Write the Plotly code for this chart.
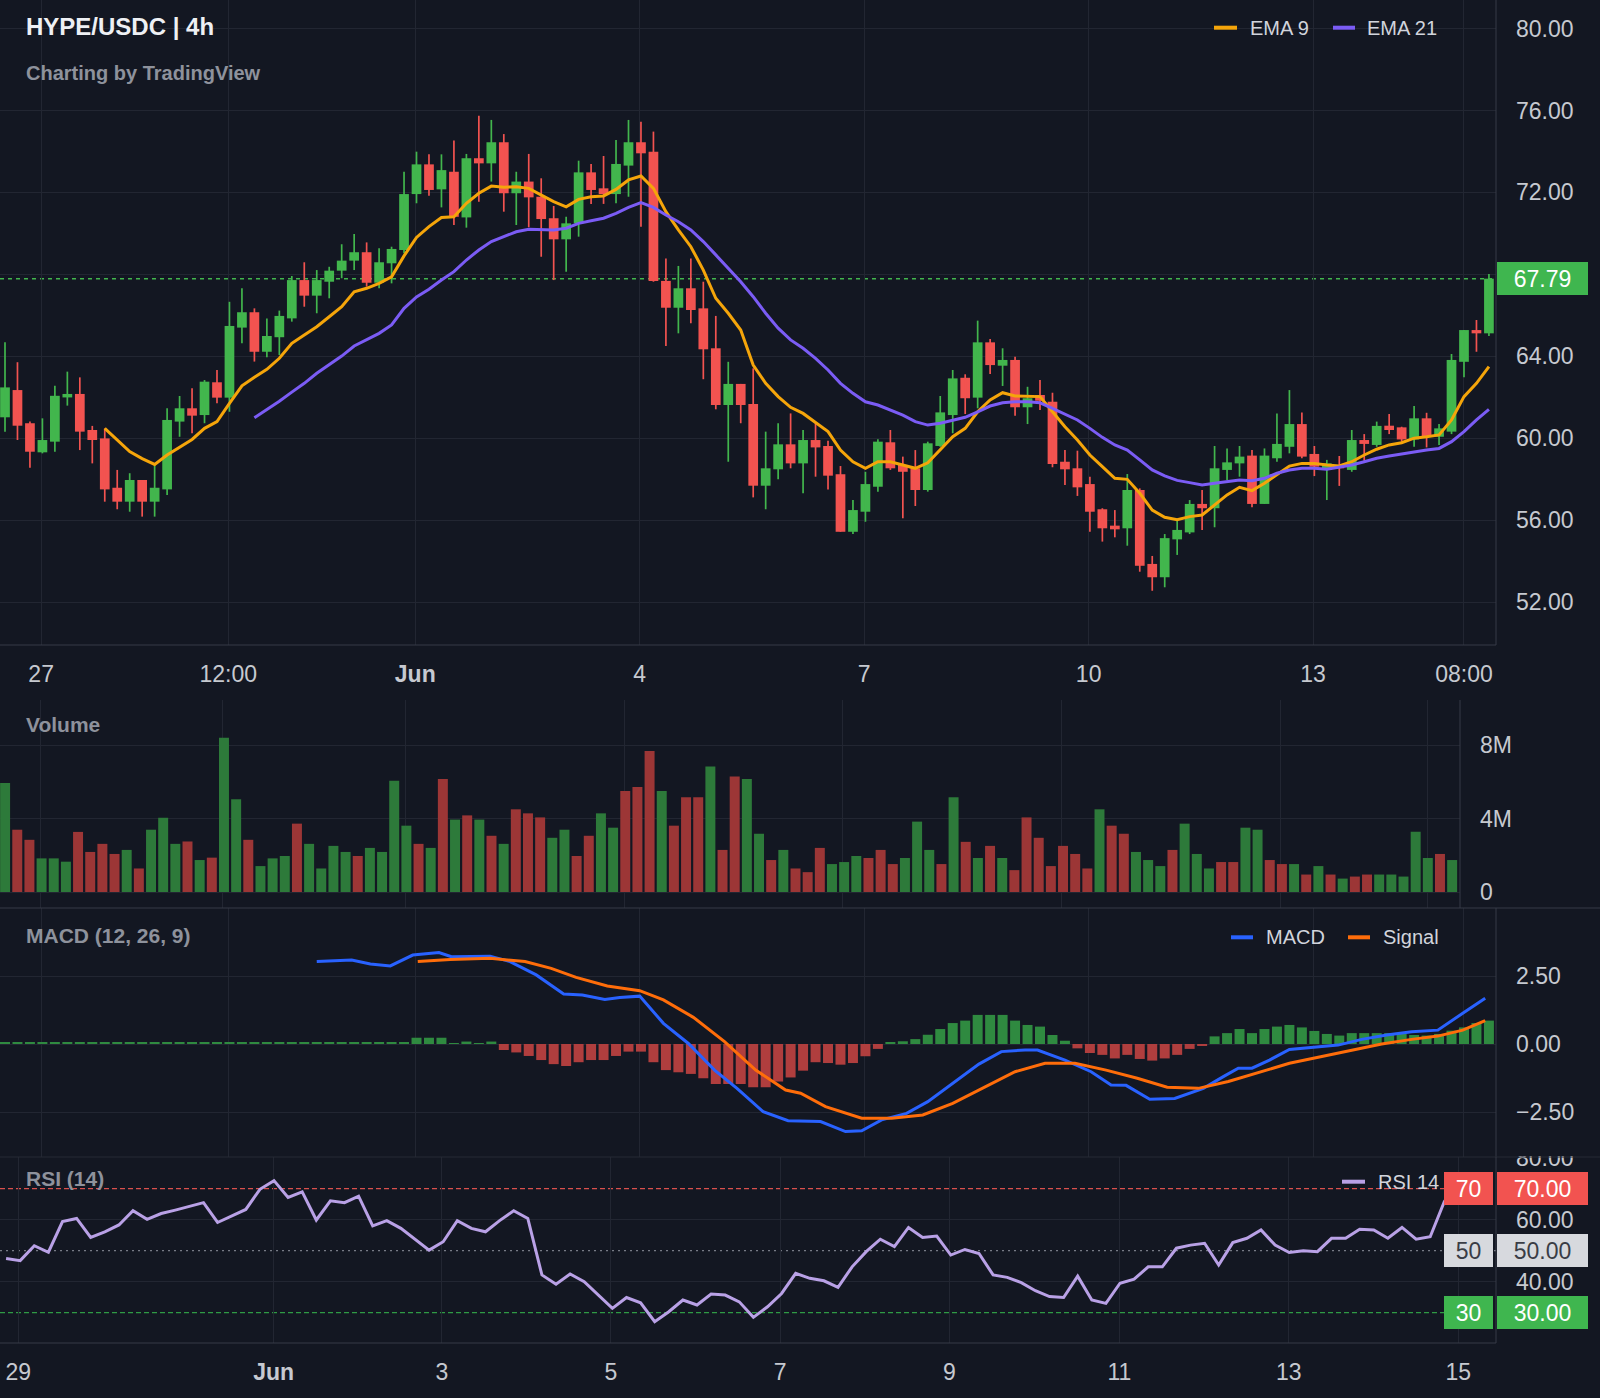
import plotly.graph_objects as go

W, H = 1600, 1398
BG = "#131722"
GRID = "#222632"
BORDER = "#363a46"
TICK = "#c6c9d0"
LABEL = "#8e929c"
LEG = "#d1d4dc"
UP = "#42b64d"
DN = "#f25350"
VOL_UP = "#2d7a3a"
VOL_DN = "#9c3636"
H_UP = "#2f8a40"
H_DN = "#b03e3e"
EMA9_C = "#f5a50a"
EMA21_C = "#7b5cf5"
MACD_C = "#2962ff"
SIG_C = "#ff6d0a"
RSI_C = "#b9a1e6"
FONT = "Liberation Sans, Arial, sans-serif"

# ---------------- data ----------------
candle_open = [61.02, 62.35, 60.73, 59.31, 59.83, 61.99, 62.16, 60.40, 59.99, 57.58,
               56.90, 57.96, 56.90, 57.50, 60.81, 61.46, 61.13, 62.73, 61.98, 65.40,
               66.15, 64.22, 64.93, 65.85, 67.72, 66.96, 67.64, 68.18, 68.67, 69.08,
               67.59, 68.54, 69.19, 71.92, 73.37, 72.15, 73.01, 70.78, 73.67, 73.42,
               74.45, 71.96, 72.53, 71.79, 70.74, 69.71, 70.49, 72.98, 72.20, 71.92,
               73.31, 74.45, 73.99, 67.68, 66.37, 67.32, 66.34, 64.39, 61.62, 62.65,
               61.67, 57.68, 58.48, 59.70, 58.77, 59.91, 59.62, 58.24, 55.43, 56.41,
               57.63, 59.80, 58.69, 58.53, 57.47, 59.62, 61.13, 62.95, 61.98, 64.68,
               63.54, 63.82, 61.51, 62.11, 61.78, 58.85, 58.53, 57.76, 56.53, 55.73,
               55.60, 57.47, 53.86, 53.21, 55.06, 55.40, 56.79, 56.58, 58.45, 58.77,
               59.15, 56.79, 59.02, 59.58, 60.69, 59.23, 58.45, 58.69, 58.45, 59.91,
               59.67, 60.61, 60.53, 59.94, 60.97, 60.07, 60.32, 63.73, 65.28, 65.12]
candle_high = [64.68, 63.71, 60.81, 60.97, 62.56, 63.25, 62.97, 60.60, 60.48, 58.45,
               58.29, 57.96, 58.69, 61.46, 62.06, 62.44, 62.84, 63.33, 66.66, 67.32,
               66.34, 65.85, 66.23, 67.92, 68.59, 68.21, 68.37, 69.47, 69.97, 69.56,
               69.27, 69.35, 73.01, 73.99, 73.86, 73.86, 74.53, 73.88, 75.75, 75.54,
               74.85, 73.01, 73.88, 72.69, 71.34, 70.81, 73.55, 73.39, 73.78, 74.56,
               75.54, 75.45, 74.97, 68.78, 68.41, 68.78, 67.64, 65.97, 63.73, 62.65,
               63.41, 60.32, 60.73, 61.21, 60.40, 60.73, 59.88, 58.64, 56.98, 58.36,
               59.95, 60.40, 59.10, 59.42, 59.83, 62.06, 63.33, 63.12, 65.74, 64.84,
               64.39, 63.98, 62.51, 62.84, 62.22, 59.42, 59.39, 58.12, 56.58, 56.49,
               58.25, 57.55, 54.25, 55.32, 56.00, 56.98, 57.47, 59.62, 59.50, 59.62,
               59.42, 59.50, 61.21, 62.35, 61.26, 59.62, 58.94, 59.13, 60.40, 60.20,
               60.81, 61.18, 60.56, 61.57, 61.24, 60.69, 64.11, 65.28, 65.77, 68.02]
candle_low = [60.32, 59.91, 58.56, 59.26, 59.34, 61.59, 59.42, 58.77, 56.90, 56.53,
              56.41, 56.17, 56.17, 57.23, 60.07, 60.24, 60.73, 61.70, 61.29, 64.63,
              63.74, 63.95, 64.06, 65.69, 66.42, 66.10, 66.83, 67.81, 68.21, 67.40,
              67.32, 67.56, 69.03, 71.47, 71.84, 71.27, 70.41, 70.28, 71.55, 72.53,
              71.06, 70.41, 70.30, 68.86, 67.72, 68.13, 69.84, 71.44, 71.44, 71.47,
              71.79, 70.33, 67.64, 64.50, 65.12, 65.61, 62.88, 61.41, 58.85, 60.73,
              57.11, 56.53, 57.99, 58.53, 57.31, 58.12, 57.50, 55.43, 55.32, 55.92,
              57.39, 58.45, 56.09, 56.69, 57.39, 59.58, 60.24, 61.18, 61.46, 63.13,
              62.55, 61.10, 60.69, 61.38, 58.58, 57.71, 57.18, 55.43, 54.95, 55.16,
              54.75, 53.48, 52.55, 52.72, 54.30, 55.32, 55.52, 55.65, 57.96, 58.12,
              56.63, 56.79, 58.85, 59.26, 59.02, 58.15, 56.98, 57.67, 58.36, 58.90,
              59.58, 60.20, 59.83, 59.58, 59.55, 59.67, 60.20, 62.97, 64.22, 64.99]
candle_close = [62.48, 60.61, 59.34, 59.91, 62.07, 62.16, 60.32, 59.91, 57.50, 56.90,
                57.96, 56.90, 57.58, 60.89, 61.46, 61.10, 62.76, 61.98, 65.48, 66.15,
                64.22, 64.99, 65.97, 67.72, 66.96, 67.72, 68.18, 68.67, 69.08, 67.59,
                68.59, 69.24, 71.92, 73.37, 72.12, 73.09, 70.81, 73.67, 73.42, 74.45,
                71.96, 72.53, 71.76, 70.70, 69.71, 70.49, 72.98, 72.12, 71.92, 73.39,
                74.45, 73.91, 67.68, 66.37, 67.32, 66.26, 64.34, 61.62, 62.65, 61.62,
                57.68, 58.53, 59.70, 58.77, 59.91, 59.55, 58.17, 55.43, 56.49, 57.76,
                59.83, 58.53, 58.36, 57.47, 59.75, 61.26, 62.92, 61.95, 64.68, 63.57,
                63.82, 61.51, 61.95, 61.83, 58.74, 58.48, 57.60, 56.41, 55.60, 55.55,
                57.47, 53.77, 53.21, 55.12, 55.52, 56.79, 56.58, 58.53, 58.82, 59.10,
                56.79, 59.15, 59.72, 60.69, 59.10, 58.61, 58.77, 58.53, 59.91, 59.72,
                60.60, 60.40, 59.94, 60.97, 60.07, 60.48, 63.82, 65.28, 65.12, 67.79]

ema9_first = 8
ema9 = [60.48, 59.91, 59.35, 59.00, 58.72, 59.18, 59.58, 59.94, 60.48, 60.81, 61.70, 62.56,
        62.97, 63.36, 63.90, 64.63, 65.04, 65.44, 65.93, 66.42, 67.15, 67.32,
        67.56, 67.88, 68.90, 69.80, 70.33, 70.78, 70.81, 71.47, 71.96, 72.31,
        72.25, 72.28, 72.20, 71.87, 71.55, 71.30, 71.66, 71.79, 71.83, 72.15,
        72.61, 72.80, 72.20, 71.06, 70.17, 69.35, 68.21, 66.83, 66.10, 65.28,
        63.57, 62.68, 62.03, 61.51, 61.21, 60.77, 60.32, 59.42, 58.85, 58.53,
        58.85, 58.85, 58.69, 58.53, 58.80, 59.42, 60.07, 60.48, 61.29, 61.87,
        62.22, 62.06, 62.06, 62.03, 61.29, 60.56, 59.91, 59.18, 58.61, 58.04,
        57.99, 57.31, 56.49, 56.14, 56.02, 56.17, 56.25, 56.74, 57.23, 57.60,
        57.44, 57.80, 58.20, 58.64, 58.77, 58.77, 58.69, 58.64, 58.85, 59.18,
        59.46, 59.67, 59.78, 60.00, 60.07, 60.16, 60.89, 62.03, 62.68, 63.49]
ema21_first = 20
ema21 = [61.00, 61.40, 61.80, 62.25, 62.68, 63.17, 63.57, 64.01, 64.50, 64.80,
         65.12, 65.53, 66.34, 66.90, 67.27, 67.72, 68.13, 68.70, 69.19, 69.60,
         69.84, 70.08, 70.20, 70.20, 70.17, 70.25, 70.49, 70.62, 70.74, 70.98,
         71.27, 71.50, 71.27, 70.90, 70.57, 70.17, 69.60, 68.95, 68.30, 67.64,
         66.91, 66.10, 65.37, 64.80, 64.39, 63.90, 63.33, 62.68, 62.19, 61.78,
         61.62, 61.38, 61.13, 60.81, 60.64, 60.73, 60.89, 61.02, 61.29, 61.57,
         61.73, 61.78, 61.78, 61.73, 61.46, 61.18, 60.89, 60.48, 60.04, 59.67,
         59.42, 58.94, 58.45, 58.16, 57.94, 57.83, 57.71, 57.80, 57.88, 57.96,
         57.92, 58.04, 58.29, 58.45, 58.53, 58.53, 58.48, 58.58, 58.69, 58.85,
         59.02, 59.13, 59.23, 59.34, 59.42, 59.50, 59.83, 60.32, 60.89, 61.41]

volume_m = [5.93, 3.39, 2.84, 1.83, 1.83, 1.65, 3.27, 2.18, 2.62, 2.07,
            2.29, 1.28, 3.39, 4.04, 2.62, 2.75, 1.74, 1.87, 8.40, 5.05,
            2.84, 1.41, 1.83, 1.96, 3.72, 2.62, 1.28, 2.51, 2.18, 1.96,
            2.40, 2.18, 6.06, 3.61, 2.62, 2.40, 6.15, 3.94, 4.17, 3.94,
            3.06, 2.62, 4.50, 4.28, 4.06, 2.95, 3.39, 1.96, 3.06, 4.28,
            3.50, 5.49, 5.71, 7.67, 5.49, 3.61, 5.16, 5.16, 6.83, 2.29,
            6.28, 6.15, 3.17, 1.74, 2.29, 1.28, 1.08, 2.40, 1.52, 1.63,
            1.96, 1.85, 2.29, 1.52, 1.85, 3.83, 2.29, 1.52, 5.16, 2.73,
            1.85, 2.51, 1.85, 1.19, 4.06, 2.95, 1.41, 2.51, 2.07, 1.28,
            4.50, 3.61, 3.17, 2.18, 1.74, 1.41, 2.29, 3.72, 2.07, 1.28,
            1.63, 1.63, 3.50, 3.39, 1.74, 1.52, 1.52, 0.95, 1.41, 0.95,
            0.73, 0.84, 0.95, 0.95, 0.95, 0.84, 3.28, 1.85, 2.07, 1.74]
volume_side = list("grrgggrrrrgrgggrgrgg" "rgggrggggrggggrgrgrg" "rgrrrggrrggrrrgrrrgr"
                   "rggrgrrrgggrrrgggrgr" "grgrrrrrrrgrrgggrggg" "rrggrrgrgrgrrgggggrg")

macd_x = [25.0, 27.8, 29.3, 30.9, 32.7, 34.8, 35.8, 38.9, 40.5, 42.6, 44.8, 46.3, 48.1,
          49.3, 50.9, 52.8, 54.8, 56.9, 58.7, 60.8, 62.8, 65.4, 67.4, 68.7, 70.3, 72.3,
          74.0, 76.0, 78.1, 79.9, 81.8, 82.8, 85.0, 87.1, 88.7, 89.9, 91.8, 93.8, 96.1,
          97.7, 98.9, 100.0, 101.4, 103.0, 105.1, 106.9, 108.8, 110.8, 112.8, 114.9,
          116.9, 118.7]
macd_line = [3.03, 3.09, 2.94, 2.87, 3.27, 3.36, 3.21, 3.23, 3.03, 2.54, 1.84, 1.80, 1.64,
             1.71, 1.76, 0.76, 0.02, -0.96, -1.63, -2.49, -2.82, -2.85, -3.22, -3.19, -2.79,
             -2.55, -2.12, -1.45, -0.74, -0.28, -0.22, -0.22, -0.59, -1.02, -1.51, -1.52,
             -2.03, -2.00, -1.63, -1.20, -0.89, -0.89, -0.59, -0.20, -0.10, -0.04, 0.17,
             0.33, 0.45, 0.51, 1.13, 1.68]
signal_x = [33.1, 35.7, 38.9, 41.7, 43.8, 45.8, 48.3, 50.9, 52.8, 55.2, 57.7, 60.2, 62.6,
            63.8, 65.8, 68.7, 71.1, 73.6, 76.0, 78.5, 81.0, 83.4, 85.8, 88.3, 90.8, 93.2,
            95.7, 98.1, 100.6, 103.0, 105.5, 107.9, 110.4, 112.8, 114.9, 116.9, 118.7]
signal_line = [3.03, 3.11, 3.15, 3.03, 2.78, 2.45, 2.13, 1.96, 1.62, 0.98, 0.09, -0.96,
               -1.69, -1.81, -2.30, -2.73, -2.73, -2.61, -2.18, -1.59, -1.02, -0.71, -0.71,
               -0.96, -1.26, -1.59, -1.63, -1.38, -1.05, -0.71, -0.47, -0.25, 0.00, 0.17,
               0.29, 0.51, 0.86]
macd_hist = [0.05, 0.05, 0.05, 0.05, 0.05, 0.05, 0.05, 0.05, 0.05, 0.05,
             0.05, 0.05, 0.05, 0.05, 0.05, 0.05, 0.05, 0.05, 0.05, 0.05,
             0.05, 0.05, 0.05, 0.05, 0.05, 0.05, 0.05, 0.05, 0.05, 0.05,
             0.05, 0.05, 0.05, 0.23, 0.23, 0.23, 0.03, 0.09, 0.03, 0.09,
             -0.22, -0.31, -0.44, -0.59, -0.74, -0.81, -0.67, -0.59, -0.59, -0.44,
             -0.28, -0.28, -0.67, -0.96, -1.04, -1.10, -1.26, -1.47, -1.47, -1.47,
             -1.59, -1.59, -1.38, -1.23, -0.98, -0.67, -0.70, -0.76, -0.70, -0.45,
             -0.18, 0.04, 0.10, 0.18, 0.34, 0.55, 0.77, 0.86, 1.07, 1.07,
             1.07, 0.86, 0.70, 0.64, 0.33, 0.12, -0.16, -0.33, -0.40, -0.53,
             -0.40, -0.55, -0.61, -0.53, -0.40, -0.18, -0.04, 0.28, 0.40, 0.55,
             0.40, 0.55, 0.64, 0.70, 0.61, 0.48, 0.37, 0.31, 0.40, 0.40,
             0.40, 0.40, 0.37, 0.33, 0.31, 0.37, 0.49, 0.61, 0.77, 0.86]

rsi14 = [47.5, 46.8, 51.6, 49.5, 59.4, 60.4, 54.3, 56.1, 58.3, 62.9, 60.1, 62.0, 63.1, 64.4,
         65.5, 59.1, 61.3, 63.3, 69.8, 72.6, 67.2, 69.0, 59.9, 66.1, 65.5, 67.6, 58.0, 59.7,
         57.2, 53.7, 50.2, 52.9, 59.7, 57.2, 56.1, 59.7, 62.9, 60.4, 42.2, 39.2, 42.5, 40.0,
         35.7, 31.4, 34.9, 33.2, 27.1, 30.3, 34.1, 32.5, 36.0, 35.7, 33.5, 28.5, 31.9, 36.2,
         42.7, 41.1, 40.3, 38.2, 44.8, 49.7, 53.7, 51.3, 57.5, 54.3, 54.7, 48.6, 50.4, 49.1,
         42.2, 41.4, 39.7, 37.1, 35.2, 34.9, 41.8, 34.1, 33.0, 39.5, 40.8, 44.8, 44.8, 50.8,
         51.8, 52.4, 45.4, 52.6, 54.0, 56.7, 51.8, 49.4, 50.0, 49.7, 54.0, 54.0, 56.9, 56.7,
         54.0, 57.5, 53.7, 54.5, 65.8, 72.5]

price_ticks = [52, 56, 60, 64, 68, 72, 76, 80]
price_tick_text = ["52.00", "56.00", "60.00", "64.00", "", "72.00", "76.00", "80.00"]
time_ticks = [2.9, 17.9, 32.9, 50.9, 68.9, 86.9, 104.9, 117.0]
time_tick_text = ["27", "12:00", "<b>Jun</b>", "4", "7", "10", "13", "08:00"]
rsi_time_ticks = [0.87, 18.97, 30.9, 42.9, 54.9, 66.9, 78.96, 90.97, 102.99]
rsi_time_tick_text = ["29", "<b>Jun</b>", "3", "5", "7", "9", "11", "13", "15"]
volume_ticks = [0, 4e6, 8e6]
volume_tick_text = ["0", "4M", "8M"]
macd_ticks = [2.5, 0, -2.5]
macd_tick_text = ["2.50", "0.00", "\u22122.50"]
rsi_ticks = [40, 60, 80]
rsi_tick_text = ["40.00", "60.00", "80.00"]
rsi_levels = [70, 50, 30]
last_price = 67.79

# ---------------- layout geometry (pixels) ----------------
PX1 = 1496          # right edge of price / macd / rsi plots
VX1 = 1460          # right edge of volume plot
P_TOP, P_BOT = 0, 645
V_TOP, V_BOT = 700, 908
M_TOP, M_BOT = 908, 1157
R_TOP, R_BOT = 1157, 1343
STEP = 12.47        # candle spacing
X0 = 5.0            # first candle centre
VSTEP = 12.16
VX0 = 5.1
RSTEP = 14.1
RX0 = 6.1


def px(x):
    return x / W


def py(y):
    return 1 - y / H


n = len(candle_close)
idx = list(range(n))
is_up = [c >= o for o, c in zip(candle_open, candle_close)]

fig = go.Figure()

# wicks
for flag, col in ((True, UP), (False, DN)):
    wx, wy = [], []
    for i in idx:
        if is_up[i] == flag:
            wx += [i, i, None]
            wy += [candle_low[i], candle_high[i], None]
    fig.add_trace(go.Scatter(x=wx, y=wy, mode="lines", line=dict(color=col, width=1.7),
                             hoverinfo="skip", xaxis="x", yaxis="y"))
# bodies
fig.add_trace(go.Bar(
    x=idx,
    y=[abs(c - o) for o, c in zip(candle_open, candle_close)],
    base=[min(o, c) for o, c in zip(candle_open, candle_close)],
    marker=dict(color=[UP if u else DN for u in is_up], line=dict(width=0)),
    width=0.78, xaxis="x", yaxis="y"))
# EMAs
fig.add_trace(go.Scatter(x=list(range(ema9_first, ema9_first + len(ema9))), y=ema9,
                         mode="lines", line=dict(color=EMA9_C, width=3), xaxis="x", yaxis="y"))
fig.add_trace(go.Scatter(x=list(range(ema21_first, ema21_first + len(ema21))), y=ema21,
                         mode="lines", line=dict(color=EMA21_C, width=3), xaxis="x", yaxis="y"))

# volume
fig.add_trace(go.Bar(x=list(range(len(volume_m))), y=[v * 1e6 for v in volume_m],
                     marker=dict(color=[VOL_UP if s == "g" else VOL_DN for s in volume_side],
                                 line=dict(width=0)),
                     width=0.82, xaxis="x2", yaxis="y2"))

# MACD
fig.add_trace(go.Bar(x=idx, y=macd_hist,
                     marker=dict(color=[H_UP if v >= 0 else H_DN for v in macd_hist],
                                 line=dict(width=0)),
                     width=0.8, xaxis="x3", yaxis="y3"))
fig.add_trace(go.Scatter(x=macd_x, y=macd_line, mode="lines", line=dict(color=MACD_C, width=3),
                         xaxis="x3", yaxis="y3"))
fig.add_trace(go.Scatter(x=signal_x, y=signal_line, mode="lines", line=dict(color=SIG_C, width=3),
                         xaxis="x3", yaxis="y3"))

# RSI
fig.add_trace(go.Scatter(x=list(range(len(rsi14))), y=rsi14, mode="lines",
                         line=dict(color=RSI_C, width=3), xaxis="x4", yaxis="y4"))

tickfont = dict(family=FONT, size=23, color=TICK)
base_x = dict(showgrid=True, gridcolor=GRID, gridwidth=1, zeroline=False, showline=False,
              ticks="", fixedrange=True, tickfont=tickfont, automargin=False)
base_y = dict(showgrid=True, gridcolor=GRID, gridwidth=1, zeroline=False, showline=False,
              ticks="", side="right", fixedrange=True, tickfont=tickfont, ticklabelstandoff=19,
              automargin=False)

price_range_x = [-X0 / STEP, (PX1 - X0) / STEP]
layout = dict(
    width=W, height=H, autosize=False,
    margin=dict(l=0, r=0, t=0, b=0, pad=0, autoexpand=False),
    paper_bgcolor=BG, plot_bgcolor=BG, showlegend=False, barmode="overlay",
    xaxis=dict(base_x, domain=[0, px(PX1)], range=price_range_x, tickmode="array",
               tickvals=time_ticks, ticktext=time_tick_text, anchor="y", ticklabelstandoff=13),
    yaxis=dict(base_y, domain=[py(P_BOT), py(P_TOP)],
               range=[81.396 - P_BOT / 20.48, 81.396 - P_TOP / 20.48],
               tickmode="array", tickvals=price_ticks, ticktext=price_tick_text, anchor="x"),
    xaxis2=dict(base_x, domain=[0, px(VX1)], range=[-VX0 / VSTEP, (VX1 - VX0) / VSTEP],
                tickmode="array", tickvals=time_ticks, showticklabels=False, anchor="y2"),
    yaxis2=dict(base_y, domain=[py(V_BOT), py(V_TOP)],
                range=[-(V_BOT - 892) / 18.375 * 1e6, (892 - V_TOP) / 18.375 * 1e6],
                tickmode="array", tickvals=volume_ticks, ticktext=volume_tick_text, anchor="x2"),
    xaxis3=dict(base_x, domain=[0, px(PX1)], range=price_range_x, tickmode="array",
                tickvals=time_ticks, showticklabels=False, anchor="y3"),
    yaxis3=dict(base_y, domain=[py(M_BOT), py(M_TOP)],
                range=[-(M_BOT - 1044) / 27.2, (1044 - M_TOP) / 27.2],
                tickmode="array", tickvals=macd_ticks, ticktext=macd_tick_text, anchor="x3"),
    xaxis4=dict(base_x, domain=[0, px(PX1)], range=[-RX0 / RSTEP, (PX1 - RX0) / RSTEP],
                tickmode="array", tickvals=rsi_time_ticks, ticktext=rsi_time_tick_text,
                anchor="y4", ticklabelstandoff=13),
    yaxis4=dict(base_y, domain=[py(R_BOT), py(R_TOP)],
                range=[50 - (R_BOT - 1250.7) / 3.1, 50 + (1250.7 - R_TOP) / 3.1],
                tickmode="array", tickvals=rsi_ticks, ticktext=rsi_tick_text, anchor="x4"),
)
fig.update_layout(**layout)

shapes = []


def hline_px(y, x0, x1, color=BORDER, width=1):
    shapes.append(dict(type="line", xref="paper", yref="paper", x0=px(x0), x1=px(x1),
                       y0=py(y), y1=py(y), line=dict(color=color, width=width), layer="above"))


def vline_px(x, y0, y1, color=BORDER, width=1):
    shapes.append(dict(type="line", xref="paper", yref="paper", x0=px(x), x1=px(x),
                       y0=py(y0), y1=py(y1), line=dict(color=color, width=width), layer="above"))


# last price dotted line
shapes.append(dict(type="line", xref="x domain", yref="y", x0=0, x1=1, y0=last_price,
                   y1=last_price, line=dict(color=UP, width=1.5, dash="4px,4px"), layer="below"))
# RSI levels
for lvl, col, dash in zip(rsi_levels, ["#d9504d", "#777b86", "#2f9a45"],
                          ["5px,3px", "2px,4px", "5px,3px"]):
    shapes.append(dict(type="line", xref="x4 domain", yref="y4", x0=0, x1=1, y0=lvl, y1=lvl,
                       line=dict(color=col, width=1.3, dash=dash), layer="below"))

# hide top half of the RSI 80.00 label (clipped by the pane above)
shapes.append(dict(type="rect", xref="paper", yref="paper", x0=px(PX1 + 1), x1=1,
                   y0=py(M_BOT - 1), y1=py(M_BOT - 30), fillcolor=BG, line=dict(width=0),
                   layer="above"))

# pane borders
hline_px(P_BOT, 0, PX1)
vline_px(PX1, P_TOP, P_BOT)
vline_px(VX1, V_TOP, V_BOT)
hline_px(V_BOT, 0, W)
vline_px(PX1, M_TOP, M_BOT)
hline_px(M_BOT, 0, W, color="#262a35")
vline_px(PX1, R_TOP, R_BOT)
hline_px(R_BOT, 0, PX1)

# legend dashes
for (x0, x1, y, col) in [(1214, 1237, 27.7, EMA9_C), (1333, 1355, 27.7, EMA21_C),
                         (1231, 1253, 937.3, MACD_C), (1348, 1370, 937.3, SIG_C),
                         (1342, 1365, 1181.7, RSI_C)]:
    shapes.append(dict(type="line", xref="paper", yref="paper", x0=px(x0), x1=px(x1),
                       y0=py(y), y1=py(y), line=dict(color=col, width=4), layer="above"))

annotations = []


def label(t, x, y, size, color, bold=False):
    annotations.append(dict(text=f"<b>{t}</b>" if bold else t, x=px(x), y=py(y),
                            xref="paper", yref="paper", xanchor="left", yanchor="middle",
                            showarrow=False, font=dict(family=FONT, size=size, color=color)))


def badge(t, xc, w, yval, yref, bg, fg):
    annotations.append(dict(text=t, x=px(xc), y=yval, xref="paper", yref=yref,
                            xanchor="center", yanchor="middle", showarrow=False,
                            bgcolor=bg, borderpad=2, borderwidth=0, width=w - 4, height=29,
                            align="center", valign="middle",
                            font=dict(family=FONT, size=23, color=fg)))


label("HYPE/USDC | 4h", 24, 26.5, 24, "#eef0f4", bold=True)
label("Charting by TradingView", 24, 73, 20, LABEL, bold=True)
label("EMA 9", 1248, 27.7, 20, LEG)
label("EMA 21", 1365, 27.7, 20, LEG)
label("Volume", 24, 724.5, 21, LABEL, bold=True)
label("MACD (12, 26, 9)", 24, 935, 21, LABEL, bold=True)
label("MACD", 1264, 937.3, 20, LEG)
label("Signal", 1381, 937.3, 20, LEG)
label("RSI (14)", 24, 1178.5, 21, LABEL, bold=True)
label("RSI 14", 1376, 1181.7, 20, LEG)

badge(f"{last_price:.2f}", 1542, 91, last_price, "y", "#3fb64f", "#ffffff")
badge("70", 1468.5, 49, 70, "y4", "#f25350", "#ffffff")
badge("70.00", 1542, 91, 70, "y4", "#f25350", "#ffffff")
badge("50", 1468.5, 49, 50, "y4", "#d7d9de", "#3a3d46")
badge("50.00", 1542, 91, 50, "y4", "#d7d9de", "#3a3d46")
badge("30", 1468.5, 49, 30, "y4", "#3fb64f", "#ffffff")
badge("30.00", 1542, 91, 30, "y4", "#3fb64f", "#ffffff")

fig.update_layout(shapes=shapes, annotations=annotations)

fig.write_html("out.html", config={"displayModeBar": False})
